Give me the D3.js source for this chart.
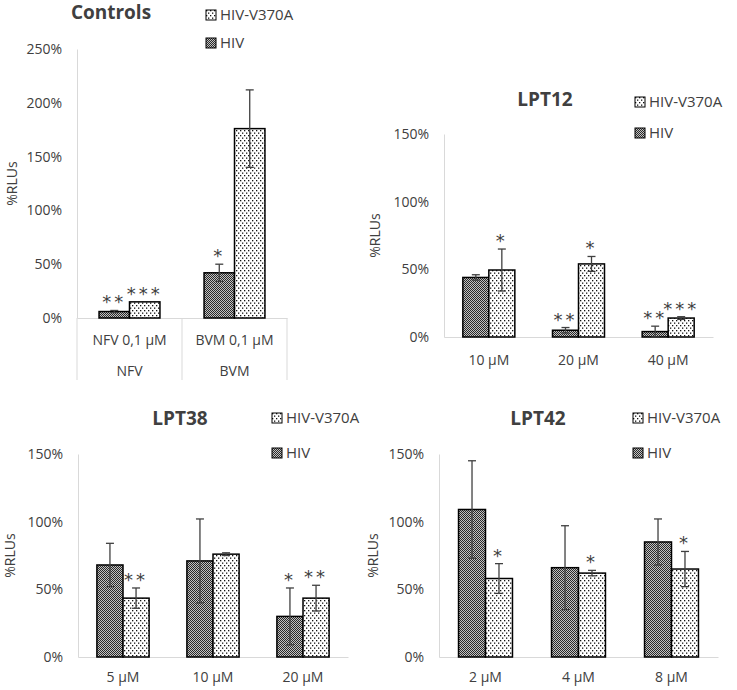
<!DOCTYPE html>
<html>
<head>
<meta charset="utf-8">
<script src="https://cdn.jsdelivr.net/npm/d3@7"></script>
<style>
  body { margin: 0; background: #fff; }
  svg text { font-family: "Open Sans", "Liberation Sans", sans-serif; fill: #404040; }
</style>
</head>
<body>
<div id="chart"></div>
<script>
var width = 737,
    height = 690;

var seriesNames = ["HIV", "HIV-V370A"];

// Controls
var ctrlCats = ["NFV 0,1 µM", "BVM 0,1 µM"];
var ctrlGroups = ["NFV", "BVM"];
var ctrlHIV = [6, 42];
var ctrlHIVErr = [1, 8];
var ctrlHIVStars = ["**", "*"];
var ctrlMut = [15, 176];
var ctrlMutErr = [0, 36];
var ctrlMutStars = ["***", ""];
var ctrlTicks = [0, 50, 100, 150, 200, 250];

// LPT12
var lpt12Cats = ["10 µM", "20 µM", "40 µM"];
var lpt12HIV = [44, 5, 4];
var lpt12HIVErr = [2, 2, 4];
var lpt12HIVStars = ["", "**", "**"];
var lpt12Mut = [49.5, 54, 14];
var lpt12MutErr = [15.5, 5.5, 1];
var lpt12MutStars = ["*", "*", "***"];

// LPT38
var lpt38Cats = ["5 µM", "10 µM", "20 µM"];
var lpt38HIV = [68, 71, 30];
var lpt38HIVErr = [16, 31, 21];
var lpt38HIVStars = ["", "", "*"];
var lpt38Mut = [43.5, 76, 43.5];
var lpt38MutErr = [7.5, 1, 9.5];
var lpt38MutStars = ["**", "", "**"];

// LPT42
var lpt42Cats = ["2 µM", "4 µM", "8 µM"];
var lpt42HIV = [109, 66, 85];
var lpt42HIVErr = [36, 31, 17];
var lpt42HIVStars = ["", "", ""];
var lpt42Mut = [58, 62, 65];
var lpt42MutErr = [11, 2, 13];
var lpt42MutStars = ["*", "*", "*"];

var lptTicks = [0, 50, 100, 150];

var svg = d3.select("#chart")
    .append("svg")
    .attr("width", width)
    .attr("height", height);

// fill patterns
var defs = svg.append("defs");

var pHiv = defs.append("pattern")
    .attr("id", "pat-hiv")
    .attr("patternUnits", "userSpaceOnUse")
    .attr("width", 2).attr("height", 2);
pHiv.append("rect").attr("width", 2).attr("height", 2).attr("fill", "#c2c2c2");
pHiv.append("rect").attr("x", 0).attr("y", 0).attr("width", 1).attr("height", 1).attr("fill", "#2a2a2a");
pHiv.append("rect").attr("x", 1).attr("y", 1).attr("width", 1).attr("height", 1).attr("fill", "#2a2a2a");

var pMut = defs.append("pattern")
    .attr("id", "pat-mut")
    .attr("patternUnits", "userSpaceOnUse")
    .attr("width", 4).attr("height", 5);
pMut.append("rect").attr("width", 4).attr("height", 5).attr("fill", "#fff");
pMut.append("rect").attr("x", 0).attr("y", 0).attr("width", 1.3).attr("height", 1.3).attr("fill", "#111");
pMut.append("rect").attr("x", 2).attr("y", 2.5).attr("width", 1.3).attr("height", 1.3).attr("fill", "#111");

var fills = {"HIV": "url(#pat-hiv)", "HIV-V370A": "url(#pat-mut)"};

function drawPanel(p) {

    var g = svg.append("g");

    var x0 = d3.scaleBand()
        .domain(p.cats)
        .range([p.left, p.right])
        .paddingInner(0.42)
        .paddingOuter(0.21);

    var x1 = d3.scaleBand()
        .domain(seriesNames)
        .range([0, x0.bandwidth()]);

    var y = d3.scaleLinear()
        .domain([0, p.max])
        .range([p.bottom, p.top]);

    // value axis
    var yAxis = g.append("g")
        .attr("transform", "translate(" + p.left + ",0)")
        .call(d3.axisLeft(y).tickValues(p.ticks).tickSize(0).tickPadding(15)
              .tickFormat(function(d) { return d + "%"; }));
    yAxis.select(".domain").attr("stroke", "#d9d9d9");
    yAxis.selectAll("text").style("font-size", "14px").attr("fill", "#404040");

    // category axis
    var xAxis = g.append("g")
        .attr("transform", "translate(0," + p.bottom + ")")
        .call(d3.axisBottom(x0).tickSize(0).tickPadding(p.labelPad).tickSizeOuter(0));
    xAxis.select(".domain").attr("stroke", "#d9d9d9");
    xAxis.selectAll("text").style("font-size", "14px").attr("fill", "#404040");

    if (p.groups) {
        // second level of category labels with separator lines
        var lines = [p.left, (p.left + p.right) / 2, p.right];
        g.selectAll(".sep").data(lines).enter().append("line")
            .attr("x1", function(d) { return d; })
            .attr("x2", function(d) { return d; })
            .attr("y1", p.bottom)
            .attr("y2", p.boxBottom)
            .attr("stroke", "#d9d9d9");
        g.selectAll(".grp").data(p.groups).enter().append("text")
            .attr("x", function(d, i) { return x0(p.cats[i]) + x0.bandwidth() / 2; })
            .attr("y", p.bottom + 53)
            .attr("dy", "0.35em")
            .attr("text-anchor", "middle")
            .style("font-size", "14px")
            .text(function(d) { return d; });
    }

    var rows = p.cats.map(function(c, i) {
        return [
            {cat: c, s: "HIV", v: p.hiv[i], e: p.hivErr[i], star: p.hivStars[i]},
            {cat: c, s: "HIV-V370A", v: p.mut[i], e: p.mutErr[i], star: p.mutStars[i]}
        ];
    });
    var items = [].concat.apply([], rows);

    g.selectAll(".bar").data(items).enter().append("rect")
        .attr("x", function(d) { return x0(d.cat) + x1(d.s); })
        .attr("y", function(d) { return y(d.v); })
        .attr("width", x1.bandwidth())
        .attr("height", function(d) { return y(0) - y(d.v); })
        .attr("fill", function(d) { return fills[d.s]; })
        .attr("stroke", "#000")
        .attr("stroke-width", 1.5);

    // error bars
    var cx = function(d) { return x0(d.cat) + x1(d.s) + x1.bandwidth() / 2; };
    var eb = g.selectAll(".err").data(items.filter(function(d) { return d.e > 0; }))
        .enter().append("g")
        .attr("stroke", "#404040")
        .attr("stroke-width", 1.3);
    eb.append("line")
        .attr("x1", cx).attr("x2", cx)
        .attr("y1", function(d) { return y(d.v + d.e); })
        .attr("y2", function(d) { return y(Math.max(0, d.v - d.e)); });
    eb.append("line")
        .attr("x1", function(d) { return cx(d) - 4; })
        .attr("x2", function(d) { return cx(d) + 4; })
        .attr("y1", function(d) { return y(d.v + d.e); })
        .attr("y2", function(d) { return y(d.v + d.e); });
    eb.append("line")
        .attr("x1", function(d) { return cx(d) - 4; })
        .attr("x2", function(d) { return cx(d) + 4; })
        .attr("y1", function(d) { return y(Math.max(0, d.v - d.e)); })
        .attr("y2", function(d) { return y(Math.max(0, d.v - d.e)); });

    // significance stars
    g.selectAll(".star").data(items.filter(function(d) { return d.star; }))
        .enter().append("text")
        .attr("x", cx)
        .attr("y", function(d) { return y(d.v + d.e) - 2; })
        .attr("text-anchor", "middle")
        .style("font-family", "'DejaVu Sans', sans-serif")
        .style("font-size", "18px")
        .style("letter-spacing", "3px")
        .attr("fill", "#222")
        .text(function(d) { return d.star; });

    // y title
    g.append("text")
        .attr("transform", "translate(" + p.yTitleX + "," + ((p.top + p.bottom) / 2) + ") rotate(-90)")
        .attr("text-anchor", "middle")
        .attr("dy", "0.35em")
        .style("font-size", "14px")
        .text("%RLUs");

    // panel title
    g.append("text")
        .attr("x", p.titleX)
        .attr("y", p.titleY)
        .attr("text-anchor", "middle")
        .attr("dy", "0.35em")
        .style("font-size", "19px")
        .style("font-weight", "bold")
        .attr("fill", "#000")
        .text(p.title);

    // legend (reversed order like the source)
    var leg = g.selectAll(".leg").data(seriesNames.slice().reverse())
        .enter().append("g")
        .attr("transform", function(d, i) { return "translate(" + p.legX + "," + p.legY[i] + ")"; });
    leg.append("rect")
        .attr("x", 0).attr("y", -5)
        .attr("width", 10).attr("height", 10)
        .attr("fill", function(d) { return fills[d]; })
        .attr("stroke", "#000")
        .attr("stroke-width", 1);
    leg.append("text")
        .attr("x", 14)
        .attr("dy", "0.36em")
        .style("font-size", "15px")
        .text(function(d) { return d; });
}

drawPanel({
    title: "Controls", titleX: 111, titleY: 12,
    legX: 206, legY: [15, 43],
    cats: ctrlCats, groups: ctrlGroups,
    hiv: ctrlHIV, hivErr: ctrlHIVErr, hivStars: ctrlHIVStars,
    mut: ctrlMut, mutErr: ctrlMutErr, mutStars: ctrlMutStars,
    ticks: ctrlTicks, max: 250,
    left: 77, right: 287, top: 49, bottom: 318, boxBottom: 380,
    labelPad: 17, yTitleX: 12
});

drawPanel({
    title: "LPT12", titleX: 545, titleY: 99,
    legX: 635, legY: [102, 133],
    cats: lpt12Cats,
    hiv: lpt12HIV, hivErr: lpt12HIVErr, hivStars: lpt12HIVStars,
    mut: lpt12Mut, mutErr: lpt12MutErr, mutStars: lpt12MutStars,
    ticks: lptTicks, max: 150,
    left: 444, right: 713, top: 134, bottom: 337,
    labelPad: 18, yTitleX: 375
});

drawPanel({
    title: "LPT38", titleX: 180, titleY: 418,
    legX: 272, legY: [418, 453],
    cats: lpt38Cats,
    hiv: lpt38HIV, hivErr: lpt38HIVErr, hivStars: lpt38HIVStars,
    mut: lpt38Mut, mutErr: lpt38MutErr, mutStars: lpt38MutStars,
    ticks: lptTicks, max: 150,
    left: 78, right: 348, top: 454, bottom: 657,
    labelPad: 15, yTitleX: 10
});

drawPanel({
    title: "LPT42", titleX: 538, titleY: 418,
    legX: 633, legY: [418, 453],
    cats: lpt42Cats,
    hiv: lpt42HIV, hivErr: lpt42HIVErr, hivStars: lpt42HIVStars,
    mut: lpt42Mut, mutErr: lpt42MutErr, mutStars: lpt42MutStars,
    ticks: lptTicks, max: 150,
    left: 439, right: 718, top: 454, bottom: 657,
    labelPad: 15, yTitleX: 373
});
</script>
</body>
</html>
